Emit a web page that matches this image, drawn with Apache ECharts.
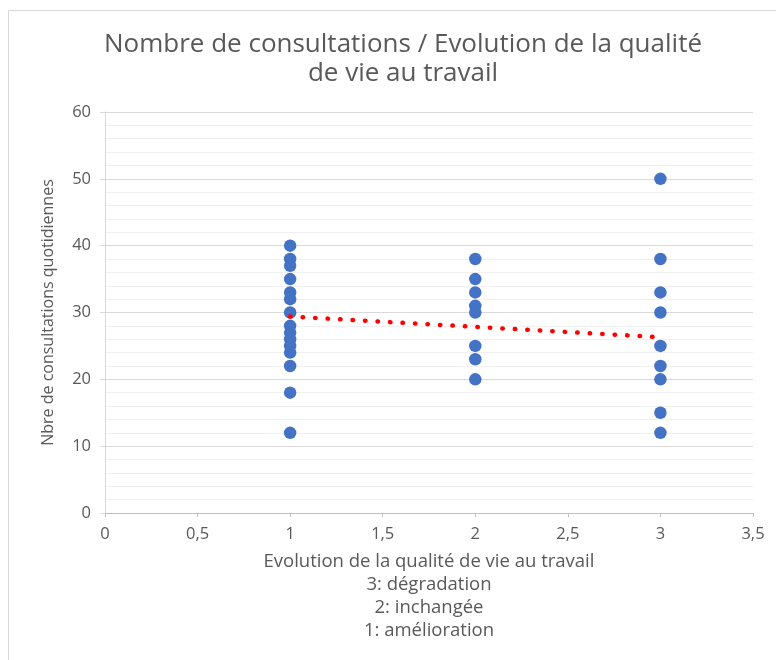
<!DOCTYPE html>
<html>
<head>
<meta charset="utf-8">
<script src="https://cdn.jsdelivr.net/npm/echarts@6/dist/echarts.min.js"></script>
<style>
  html, body { margin: 0; padding: 0; background: #fff; }
  #main { width: 776px; height: 660px; }
</style>
</head>
<body>
<div id="main"></div>
<script>
// nombre de consultations par niveau d'évolution
const xLevels = [1, 2, 3]
const valsAmelioration = [40, 38, 37, 35, 33, 32, 30, 28, 27, 26, 25, 24, 22, 18, 12]
const valsInchangee = [38, 35, 33, 31, 30, 25, 23, 20]
const valsDegradation = [50, 38, 33, 30, 25, 22, 20, 15, 12]
// courbe de tendance (extrémités)
const trendX = [1, 3]
const trendY = [29.4, 26.3]

const groups = [valsAmelioration, valsInchangee, valsDegradation]
const points = []
groups.forEach((vals, i) => {
    vals.forEach((v) => { points.push([xLevels[i], v]) })
})

const font = '"Open Sans", sans-serif'
const grey = '#595959'

const myChart = echarts.init(document.getElementById('main'))
myChart.setOption({
    animation: false,
    backgroundColor: '#fff',
    textStyle: { fontFamily: font },
    title: {
        text: 'Nombre de consultations / Evolution de la qualité\nde vie au travail',
        left: 398,
        textAlign: 'center',
        top: 25,
        textStyle: {
            fontFamily: font,
            fontSize: 26,
            fontWeight: 'normal',
            color: grey,
            lineHeight: 29
        }
    },
    graphic: [{
        type: 'rect',
        shape: { x: 8.5, y: 10.5, width: 800, height: 700 },
        style: { fill: 'none', stroke: '#d9d9d9', lineWidth: 1 },
        silent: true
    }],
    grid: { left: 105, right: 23, top: 112, bottom: 147 },
    xAxis: {
        type: 'value',
        min: 0,
        max: 3.5,
        interval: 0.5,
        name: 'Evolution de la qualité de vie au travail\n3: dégradation\n2: inchangée\n1: amélioration',
        nameLocation: 'middle',
        nameGap: 37,
        nameTextStyle: { fontFamily: font, fontSize: 18.5, color: grey, lineHeight: 23 },
        axisLine: { lineStyle: { color: '#bfbfbf' } },
        axisTick: { show: true, length: 4, lineStyle: { color: '#bfbfbf' } },
        axisLabel: {
            fontFamily: font,
            fontSize: 16.5,
            color: grey,
            margin: 13,
            formatter: (v) => String(v).replace('.', ',')
        },
        splitLine: { show: false }
    },
    yAxis: {
        type: 'value',
        min: 0,
        max: 60,
        interval: 10,
        name: 'Nbre de consultations quotidiennes',
        nameLocation: 'middle',
        nameGap: 49,
        nameTextStyle: { fontFamily: font, fontSize: 16, color: grey },
        axisLine: { show: true, lineStyle: { color: '#d9d9d9' } },
        axisTick: { show: true, length: 5, lineStyle: { color: '#d9d9d9' } },
        axisLabel: { fontFamily: font, fontSize: 16.5, color: grey, margin: 14 },
        splitLine: { lineStyle: { color: '#d9d9d9' } },
        minorTick: { show: false, splitNumber: 5 },
        minorSplitLine: { show: true, lineStyle: { color: '#f0f0f0' } }
    },
    series: [
        {
            name: 'points',
            type: 'scatter',
            symbol: 'circle',
            symbolSize: 12.5,
            itemStyle: { color: '#4472C4', opacity: 1 },
            data: points,
            z: 3
        },
        {
            name: 'tendance',
            type: 'line',
            showSymbol: false,
            data: trendX.map((x, i) => [x, trendY[i]]),
            lineStyle: { color: '#FF0000', width: 4.5, type: [0.5, 12], cap: 'round' },
            z: 4
        }
    ]
})
</script>
</body>
</html>
